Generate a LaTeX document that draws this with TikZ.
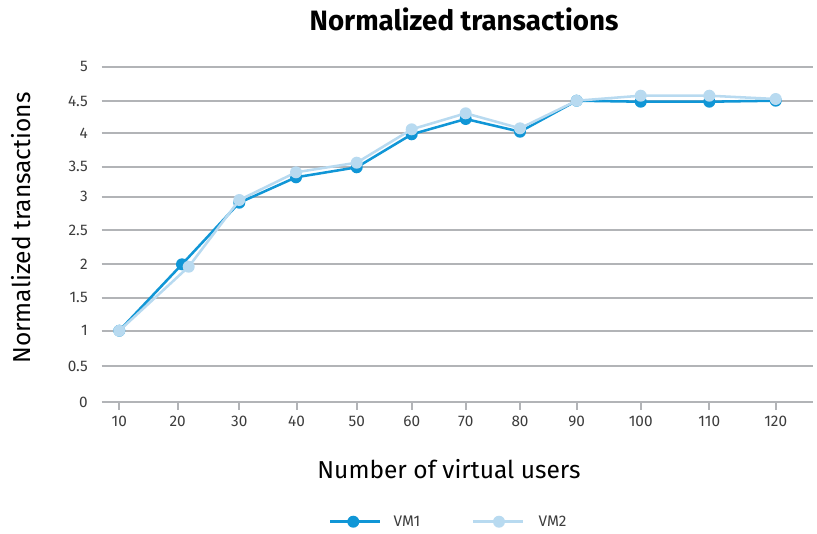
\documentclass[tikz,border=0pt]{standalone}
\usepackage{fontspec}
\setmainfont{Fira Sans}
\definecolor{vmone}{RGB}{16,150,214}
\definecolor{vmtwo}{RGB}{184,218,240}
\definecolor{gridgray}{RGB}{178,180,183}
\definecolor{ticktext}{RGB}{60,60,60}
\tikzset{
  gridline/.style={draw=gridgray,line width=1.5pt},
  tickmark/.style={draw=gridgray,line width=1.5pt},
  ticklabel/.style={font=\fontsize{11.5}{13}\selectfont,text=ticktext,inner sep=0pt},
  axistitle/.style={font=\fontsize{18.4}{21}\selectfont,text=black,inner sep=0pt},
  lineone/.style={draw=vmone,line width=1.9pt,line join=round},
  linetwo/.style={draw=vmtwo,line width=1.9pt,line join=round},
  dotone/.style={circle,fill=vmone,minimum size=9pt,inner sep=0pt},
  dottwo/.style={circle,fill=vmtwo,minimum size=9pt,inner sep=0pt},
  legendtext/.style={font=\fontsize{11.5}{13}\selectfont,text=ticktext,inner sep=0pt,anchor=west}
}
\begin{document}
\begin{tikzpicture}[x=0.75pt,y=-0.75pt]
\useasboundingbox (0,0) rectangle (817,533);
% title
\node[inner sep=0pt,font=\fontsize{21}{24}\bfseries\selectfont] (title) at (464,19) {\scalebox{0.99}[1]{Normalized transactions}};
% gridlines and y labels
\foreach \v/\yy/\n in {0/402.3/g0,0.5/366/g1,1/330.7/g2,1.5/297.7/g3,2/264.3/g4,2.5/230/g5,3/196.7/g6,3.5/166.7/g7,4/133.3/g8,4.5/101/g9,5/66.7/g10}{
  \coordinate (\n a) at (101.7,\yy);
  \coordinate (\n b) at (813,\yy);
  \draw[gridline] (\n a) -- (\n b);
  \node[ticklabel,anchor=east] (\n l) at (88,\yy) {\v};
}
% x ticks and labels
\foreach \v/\xx in {10/119.3,20/177.7,30/239.3,40/296.5,50/356.7,60/411.7,70/465.7,80/520,90/576.7,100/640.7,110/709.3,120/775.7}{
  \coordinate (t\v a) at (\xx,402.3);
  \coordinate (t\v b) at (\xx,410);
  \draw[tickmark] (t\v a) -- (t\v b);
  \node[ticklabel] (x\v) at (\xx,421) {\v};
}
% axis titles
\node[axistitle] (xtitle) at (449,469) {Number of virtual users};
\node[axistitle,rotate=90] (ytitle) at (21,228) {Normalized transactions};
% data VM1
\foreach \i/\xx/\yy in {1/119.3/330.7,2/182/264.3,3/239.3/202.7,4/296/177.3,5/356.7/167.3,6/411.7/134.3,7/465.7/119,8/520/131.7,9/576.7/100.7,10/640.7/101.7,11/709.3/101.7,12/775.7/100.7}{
  \coordinate (p\i) at (\xx,\yy);
}
\foreach \i/\xx/\yy in {1/119.3/330.7,2/188.7/266.7,3/239.3/200,4/296/172.3,5/356.7/162.7,6/411.7/129.3,7/465.7/113.3,8/520/128.3,9/576.7/100.7,10/640.7/95.7,11/709.3/95.7,12/775.7/99}{
  \coordinate (q\i) at (\xx,\yy);
}
\draw[lineone] (p1) -- (p2) -- (p3) -- (p4) -- (p5) -- (p6) -- (p7) -- (p8) -- (p9) -- (p10) -- (p11) -- (p12);
\foreach \i in {1,...,12}{\node[dotone] (pd\i) at (p\i) {};}
\draw[linetwo] (q1) -- (q2) -- (q3) -- (q4) -- (q5) -- (q6) -- (q7) -- (q8) -- (q9) -- (q10) -- (q11) -- (q12);
\foreach \i in {1,...,12}{\node[dottwo] (qd\i) at (q\i) {};}
% legend
\coordinate (la) at (330,521.7);
\coordinate (lb) at (380,521.7);
\draw[lineone] (la) -- (lb);
\node[dotone] (lm1) at (353.3,521.7) {};
\node[legendtext] (lt1) at (393.3,521.7) {VM1};
\coordinate (lc) at (473.3,521.7);
\coordinate (ld) at (523.3,521.7);
\draw[linetwo] (lc) -- (ld);
\node[dottwo] (lm2) at (499,521.7) {};
\node[legendtext] (lt2) at (538.3,521.7) {VM2};
\end{tikzpicture}
\end{document}
